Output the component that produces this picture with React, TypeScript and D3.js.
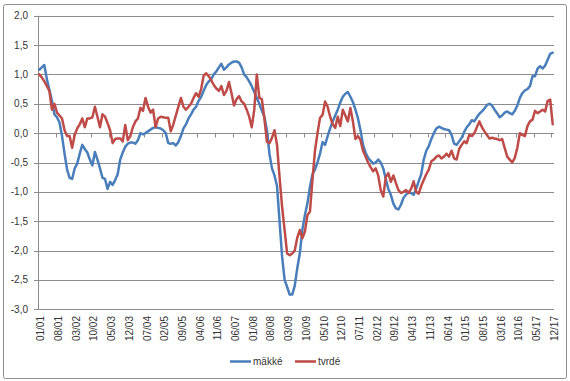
import React from "react";
import * as d3 from "d3";

const tickLabels = ["01/01","08/01","03/02","10/02","05/03","12/03","07/04","02/05","09/05","04/06","11/06","06/07","01/08","08/08","03/09","10/09","05/10","12/10","07/11","02/12","09/12","04/13","11/13","06/14","01/15","08/15","03/16","10/16","05/17","12/17"];

// mäkké (monthly, 01/2001 - 12/2017)
const soft = [
  1.08,1.12,1.16,0.92,0.74,0.55,0.32,0.27,0.18,-0.05,-0.35,-0.62,
  -0.76,-0.78,-0.6,-0.52,-0.35,-0.2,-0.27,-0.33,-0.45,-0.55,-0.32,-0.45,
  -0.6,-0.76,-0.78,-0.95,-0.83,-0.88,-0.8,-0.7,-0.45,-0.33,-0.23,-0.18,
  -0.16,-0.16,-0.18,-0.12,0.0,-0.02,0.0,0.03,0.06,0.09,0.1,0.09,
  0.08,0.05,0.0,-0.17,-0.18,-0.17,-0.21,-0.15,-0.05,0.08,0.15,0.25,
  0.32,0.4,0.45,0.55,0.62,0.72,0.82,0.88,0.92,1.0,1.05,1.12,
  1.18,1.08,1.12,1.17,1.2,1.22,1.22,1.2,1.12,1.0,0.95,0.88,
  0.8,0.7,0.6,0.5,0.38,0.28,0.05,-0.35,-0.6,-0.72,-0.9,-1.5,
  -2.1,-2.5,-2.62,-2.75,-2.75,-2.6,-2.3,-2.05,-1.65,-1.4,-1.2,-0.92,
  -0.7,-0.62,-0.5,-0.35,-0.15,-0.2,-0.05,0.08,0.2,0.3,0.4,0.52,
  0.62,0.67,0.7,0.62,0.53,0.4,0.25,0.05,-0.2,-0.33,-0.42,-0.47,
  -0.52,-0.5,-0.45,-0.5,-0.6,-0.78,-0.95,-1.05,-1.2,-1.28,-1.3,-1.22,
  -1.1,-1.05,-1.0,-1.02,-1.05,-0.95,-0.82,-0.7,-0.45,-0.3,-0.22,-0.1,
  0.0,0.08,0.11,0.09,0.07,0.06,0.05,-0.03,-0.18,-0.2,-0.14,-0.08,
  0.02,0.1,0.15,0.22,0.2,0.27,0.33,0.37,0.42,0.48,0.5,0.47,
  0.4,0.34,0.27,0.3,0.35,0.37,0.34,0.32,0.38,0.47,0.6,0.68,
  0.73,0.75,0.8,0.97,0.97,1.1,1.14,1.1,1.15,1.25,1.35,1.37
];

// tvrdé
const hard = [
  1.0,0.95,0.88,0.8,0.72,0.4,0.5,0.35,0.3,0.25,0.05,-0.05,
  -0.05,-0.25,-0.03,0.08,0.15,0.25,0.1,0.25,0.25,0.27,0.45,0.28,
  0.1,0.32,0.28,0.17,0.05,-0.17,-0.1,-0.09,-0.09,-0.14,0.14,-0.12,
  -0.05,0.1,0.2,0.25,0.43,0.38,0.6,0.45,0.35,0.4,0.1,0.25,
  0.28,0.27,0.26,0.26,0.03,0.15,0.3,0.45,0.6,0.45,0.4,0.45,
  0.5,0.6,0.68,0.62,0.75,0.98,1.02,0.97,0.9,0.82,0.76,0.72,
  0.8,0.65,0.72,0.87,0.68,0.47,0.58,0.63,0.54,0.5,0.4,0.28,
  0.1,0.4,1.0,0.6,0.58,0.25,-0.15,-0.17,-0.08,0.05,-0.2,-0.75,
  -1.25,-1.65,-2.05,-2.08,-2.05,-2.0,-1.78,-1.65,-1.79,-1.68,-1.4,-1.34,
  -0.8,-0.3,0.0,0.26,0.31,0.54,0.45,0.28,0.15,0.09,0.28,0.12,
  0.4,0.3,0.2,0.43,0.2,-0.1,-0.05,-0.12,-0.3,-0.4,-0.5,-0.58,
  -0.65,-0.6,-0.72,-0.97,-1.08,-0.75,-0.68,-0.83,-0.72,-0.85,-0.97,-1.02,
  -1.0,-0.97,-1.02,-0.95,-0.82,-1.0,-1.03,-0.9,-0.8,-0.7,-0.62,-0.48,
  -0.45,-0.4,-0.38,-0.43,-0.4,-0.35,-0.4,-0.3,-0.43,-0.45,-0.27,-0.2,
  -0.14,-0.17,-0.03,-0.05,0.0,0.1,0.2,0.1,0.03,-0.03,-0.09,-0.08,
  -0.09,-0.1,-0.12,-0.1,-0.25,-0.4,-0.45,-0.5,-0.42,-0.25,0.0,-0.03,
  -0.05,0.12,0.2,0.23,0.38,0.34,0.37,0.4,0.37,0.55,0.57,0.15
];

const yTicks = [-3, -2.5, -2, -1.5, -1, -0.5, 0, 0.5, 1, 1.5, 2];
const seriesNames = ["mäkké", "tvrdé"];
const colors = ["#4A7EBB", "#BE4B48"];
const labelEvery = 7;

const W = 570, H = 381;
const L = 38, R = 554, T = 15.7, B = 309.3;
const font = "'Liberation Sans', Arial, sans-serif";

export default function App() {
  const n = soft.length;
  const idx = d3.range(n);
  const x = d3.scalePoint<number>().domain(idx).range([L, R]).padding(0.5);
  const y = d3.scaleLinear().domain([-3, 2]).range([B, T]);
  const step = x.step();
  const line = d3.line<number>().x((_, i) => x(i) as number).y(d => y(d));
  const fmt = (v: number) => d3.format(".1f")(v).replace(".", ",").replace("−", "-");
  const y0 = Math.round(y(0)) + 0.5;
  const boundaries = d3.range(0, n + 1, labelEvery).map(k => L + k * step);

  return (
    <svg width={W} height={H} style={{ position: "absolute", left: 0, top: 0, background: "#fff" }} fontFamily={font}>
      <rect x={3.5} y={4.5} width={563} height={374} fill="#fff" stroke="#8f8f8f" strokeWidth={1} rx={2} />
      {yTicks.map(t => (
        <g key={t}>
          {t !== 0 && (
            <line x1={L} x2={R} y1={Math.round(y(t)) + 0.5} y2={Math.round(y(t)) + 0.5} stroke="#8c8c8c" strokeWidth={1} />
          )}
          <line x1={L - 4} x2={L} y1={Math.round(y(t)) + 0.5} y2={Math.round(y(t)) + 0.5} stroke="#8c8c8c" strokeWidth={1} />
          <text x={28} y={y(t)} dy="0.35em" textAnchor="end" fontSize={10} fill="#333">{fmt(t)}</text>
        </g>
      ))}
      <line x1={L + 0.5} x2={L + 0.5} y1={T} y2={B} stroke="#8c8c8c" strokeWidth={1} />
      <line x1={L} x2={R} y1={y0} y2={y0} stroke="#8c8c8c" strokeWidth={1} />
      {boundaries.map((bx, i) => (
        <line key={i} x1={Math.round(bx) + 0.5} x2={Math.round(bx) + 0.5} y1={y0} y2={y0 + 4} stroke="#8c8c8c" strokeWidth={1} />
      ))}
      {tickLabels.map((lab, k) => {
        const px = (x(k * labelEvery) as number) + 1.5;
        return (
          <text key={lab} transform={`translate(${px},316) rotate(-90)`} dy="0.35em" textAnchor="end" fontSize={10} fill="#333">{lab}</text>
        );
      })}
      <path d={line(soft) || ""} fill="none" stroke={colors[0]} strokeWidth={2.5} strokeLinejoin="round" strokeLinecap="round" />
      <path d={line(hard) || ""} fill="none" stroke={colors[1]} strokeWidth={2.5} strokeLinejoin="round" strokeLinecap="round" />
      {seriesNames.map((name, i) => {
        const lx = i === 0 ? 230 : 295;
        return (
          <g key={name}>
            <line x1={lx} x2={lx + 21} y1={361.5} y2={361.5} stroke={colors[i]} strokeWidth={2.5} />
            <text x={lx + 23} y={361.5} dy="0.35em" fontSize={10} fill="#333">{name}</text>
          </g>
        );
      })}
    </svg>
  );
}
